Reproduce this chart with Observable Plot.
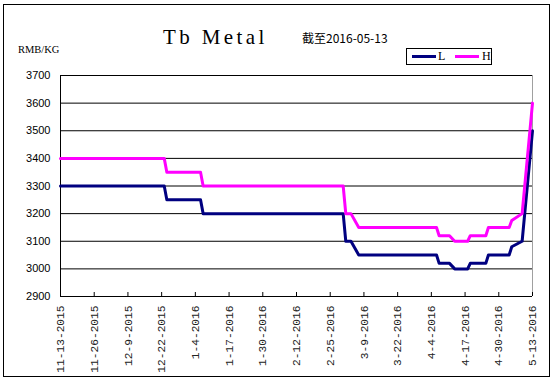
<!DOCTYPE html>
<html>
<head>
<meta charset="utf-8">
<script src="https://cdn.jsdelivr.net/npm/d3@7"></script>
<script src="https://cdn.jsdelivr.net/npm/@observablehq/plot@0.6"></script>
<style>
  html, body { margin: 0; padding: 0; background: #fff; }
  #wrap { position: relative; width: 554px; height: 381px; overflow: hidden; background: #fff; }
  #chart { position: absolute; left: 0; top: 0; }
  #border { position: absolute; left: 3px; top: 4px; width: 545px; height: 371px; border: 1px solid #000; pointer-events: none; }
  .txt { position: absolute; white-space: nowrap; color: #000; line-height: 1; }
  #title { left: 163px; top: 27px; font-family: "Liberation Serif", serif; font-size: 21px; letter-spacing: 3.4px; }
  #sub { left: 302px; top: 32px; font-family: "Noto Sans CJK SC", sans-serif; font-size: 12px; }
  #unit { left: 18px; top: 45px; font-family: "Liberation Serif", serif; font-size: 10.5px; }
  #legend { position: absolute; left: 406px; top: 48px; width: 84px; height: 15px; border: 1px solid #000; font-family: "Liberation Serif", serif; font-size: 12px; }
  #legend .sw { position: absolute; top: 6px; height: 3px; }
  #legend .lb { position: absolute; top: 1px; line-height: 1; }
</style>
</head>
<body>
<div id="wrap">
  <div id="chart"></div>
  <div id="border"></div>
  <div class="txt" id="title"></div>
  <div class="txt" id="sub"></div>
  <div class="txt" id="unit"></div>
  <div id="legend"></div>
</div>
<script>
// ---- data ----
const titleText = "Tb Metal";
const subtitleText = "截至2016-05-13";
const unitText = "RMB/KG";
const seriesNames = ["L", "H"];
const seriesColors = ["#000080", "#FF00FF"];

const dates = ["2015-11-13","2015-12-23","2015-12-24","2016-01-06","2016-01-07",
  "2016-03-01","2016-03-02","2016-03-04","2016-03-07","2016-04-06","2016-04-07",
  "2016-04-11","2016-04-13","2016-04-18","2016-04-19","2016-04-25","2016-04-26",
  "2016-05-04","2016-05-05","2016-05-09","2016-05-13"];
const lowValues  = [3300,3300,3250,3250,3200,3200,3100,3100,3050,3050,3020,3020,3000,3000,3020,3020,3050,3050,3080,3100,3500];
const highValues = [3400,3400,3350,3350,3300,3300,3200,3200,3150,3150,3120,3120,3100,3100,3120,3120,3150,3150,3175,3200,3600];

const xTickLabels = ["11-13-2015","11-26-2015","12-9-2015","12-22-2015","1-4-2016",
  "1-17-2016","1-30-2016","2-12-2016","2-25-2016","3-9-2016","3-22-2016",
  "4-4-2016","4-17-2016","4-30-2016","5-13-2016"];
const yTicks = [2900,3000,3100,3200,3300,3400,3500,3600,3700];

// ---- build ----
const parse = d3.utcParse("%Y-%m-%d");
const rows = [];
dates.forEach((d, i) => {
  rows.push({date: parse(d), value: lowValues[i], series: seriesNames[0]});
});
dates.forEach((d, i) => {
  rows.push({date: parse(d), value: highValues[i], series: seriesNames[1]});
});
const parseMDY = d3.utcParse("%m-%d-%Y");
const xTicks = xTickLabels.map(s => parseMDY(s));
const labelByTime = new Map(xTicks.map((t, i) => [+t, xTickLabels[i]]));
const xDomain = [xTicks[0], xTicks[xTicks.length - 1]];
const yDomain = [yTicks[0], yTicks[yTicks.length - 1]];

const chart = Plot.plot({
  width: 554,
  height: 381,
  marginLeft: 60,
  marginRight: 22,
  marginTop: 75,
  marginBottom: 85,
  style: {fontFamily: "Liberation Sans, Arial, sans-serif", fontSize: "11px", background: "transparent", color: "#000"},
  x: {type: "utc", domain: xDomain},
  y: {domain: yDomain},
  color: {domain: seriesNames, range: seriesColors},
  marks: [
    Plot.gridY(yTicks.slice(1), {stroke: "#000", strokeOpacity: 1, strokeWidth: 1}),
    Plot.ruleX([xDomain[1]], {stroke: "#a0a0a0", strokeWidth: 1}),
    Plot.ruleX([xDomain[0]], {stroke: "#000", strokeWidth: 1}),
    Plot.ruleY([yDomain[0]], {stroke: "#000", strokeWidth: 1}),
    Plot.axisY(yTicks, {tickSize: 0, tickPadding: 10, label: null, tickFormat: d3.format("d"),
      fontSize: 11, fontFamily: "Liberation Sans, Arial, sans-serif"}),
    Plot.axisX(xTicks, {tickSize: -4, fill: "none", stroke: "#000", label: null}),
    Plot.axisX(xTicks, {tickSize: 0, tickPadding: 9, tickRotate: -90, label: null,
      tickFormat: d => labelByTime.get(+d), fontFamily: "Liberation Mono, monospace", fontSize: 11.2, fill: "#222"}),
    Plot.line(rows, {x: "date", y: "value", z: "series", stroke: "series", strokeWidth: 3, strokeLinejoin: "round"})
  ]
});
document.getElementById("chart").appendChild(chart);

document.getElementById("title").textContent = titleText;
document.getElementById("sub").textContent = subtitleText;
document.getElementById("unit").textContent = unitText;

const legend = document.getElementById("legend");
const swX = [5, 48], lbX = [31, 75], swW = [24, 24];
seriesNames.forEach((name, i) => {
  const sw = document.createElement("div");
  sw.className = "sw";
  sw.style.left = swX[i] + "px";
  sw.style.width = swW[i] + "px";
  sw.style.background = seriesColors[i];
  legend.appendChild(sw);
  const lb = document.createElement("div");
  lb.className = "lb";
  lb.style.left = lbX[i] + "px";
  lb.textContent = name;
  legend.appendChild(lb);
});
</script>
</body>
</html>
